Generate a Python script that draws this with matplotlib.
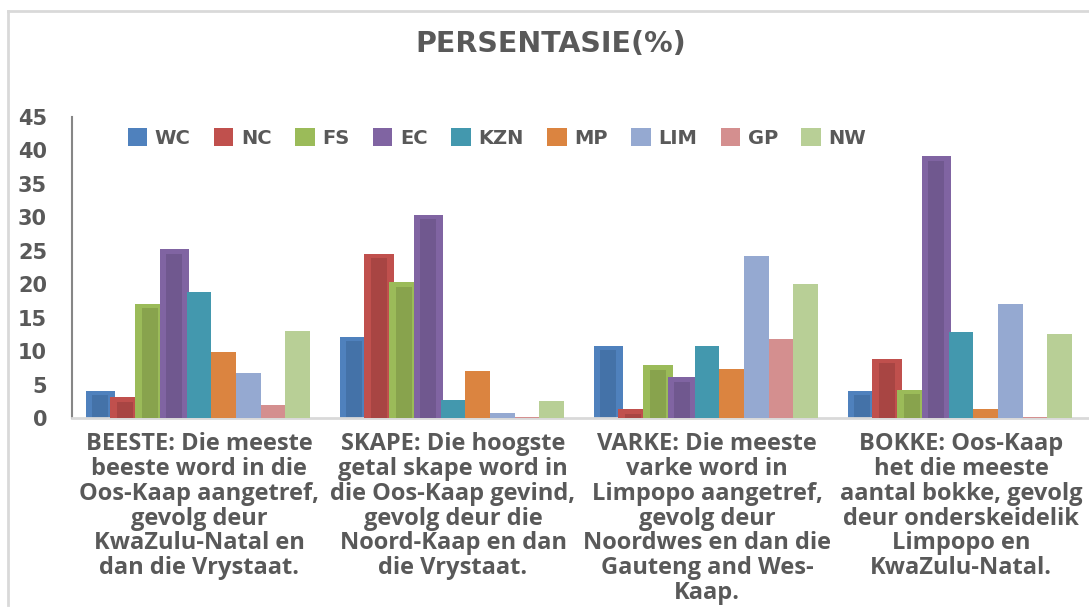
import matplotlib
matplotlib.use("Agg")
import matplotlib.pyplot as plt
import numpy as np
from matplotlib.lines import Line2D

# data
categories = [
    "BEESTE: Die meeste\nbeeste word in die\nOos-Kaap aangetref,\ngevolg deur\nKwaZulu-Natal en\ndan die Vrystaat.",
    "SKAPE: Die hoogste\ngetal skape word in\ndie Oos-Kaap gevind,\ngevolg deur die\nNoord-Kaap en dan\ndie Vrystaat.",
    "VARKE: Die meeste\nvarke word in\nLimpopo aangetref,\ngevolg deur\nNoordwes en dan die\nGauteng and Wes-\nKaap.",
    "BOKKE: Oos-Kaap\nhet die meeste\naantal bokke, gevolg\ndeur onderskeidelik\nLimpopo en\nKwaZulu-Natal.",
]
provinces = ["WC", "NC", "FS", "EC", "KZN", "MP", "LIM", "GP", "NW"]
WC = [4.1, 12.1, 10.8, 4.1]
NC = [3.1, 24.5, 1.3, 8.8]
FS = [17.1, 20.3, 7.9, 4.2]
EC = [25.2, 30.4, 6.1, 39.1]
KZN = [18.9, 2.7, 10.8, 12.8]
MP = [9.8, 7.0, 7.4, 1.3]
LIM = [6.8, 0.7, 24.2, 17.1]
GP = [1.9, 0.1, 11.8, 0.1]
NW = [13.0, 2.5, 20.1, 12.5]
series = [WC, NC, FS, EC, KZN, MP, LIM, GP, NW]

# kleure: buitekant / binnekant
outer = ['#4F81BD', '#C0504D', '#9BBB59', '#8064A2', '#4398AE', '#DB8440', '#95A9D1', '#D48F8F', '#B8CF96']
inner = ['#4472A8', '#A84543', '#88A34D', '#70588F', None, None, None, None, None]

grey = '#595959'
fig = plt.figure(figsize=(10.89, 6.07), dpi=100)
ax = fig.add_axes([72/1089, 1-418/607, 1016/1089, 301/607])

x = np.arange(len(categories))
w = 0.097
for i, vals in enumerate(series):
    pos = x + (i - 4) * w
    if inner[i] is not None:
        ax.bar(pos, vals, width=w*1.2, color=outer[i], zorder=2+i)
        inn = [max(v - 0.65, 0) for v in vals]
        ax.bar(pos, inn, width=w*0.65, color=inner[i], zorder=2+i)
        ax.bar([0], [0], color=outer[i], label=provinces[i])
    else:
        ax.bar(pos, vals, width=w, color=outer[i], zorder=2+i, label=provinces[i])

ax.set_xlim(-0.5, 3.5)
ax.set_ylim(0, 45)
ax.set_yticks(np.arange(0, 46, 5))
ax.set_xticks(x)
ax.set_xticklabels(categories, fontsize=17, fontweight='bold', color=grey,
                   family='Open Sans', linespacing=1.05)
ax.tick_params(axis='x', length=0, pad=10)
ax.tick_params(axis='y', length=0, pad=18, labelsize=15, labelcolor=grey)
for t in ax.get_yticklabels():
    t.set_fontweight('bold')

for s in ['top', 'right']:
    ax.spines[s].set_visible(False)
ax.spines['left'].set_color('#868686')
ax.spines['left'].set_linewidth(1.5)
ax.spines['bottom'].set_color('#D9D9D9')
ax.spines['bottom'].set_linewidth(2)

fig.text(551/1089, 1-44/607, 'PERSENTASIE(%)', ha='center', va='center',
         fontsize=20.5, fontweight='bold', color=grey)

leg = ax.legend(loc='center', bbox_to_anchor=(497/1089, 1-138/607), bbox_transform=fig.transFigure,
                ncol=9, frameon=False, handlelength=1.0, handleheight=1.0, handletextpad=0.4,
                columnspacing=1.2, prop={'weight': 'bold', 'size': 14})
for t in leg.get_texts():
    t.set_color(grey)

# raam
fig.add_artist(Line2D([8/1089, 1], [1-11/607, 1-11/607], color='#D9D9D9', lw=2))
fig.add_artist(Line2D([8/1089, 8/1089], [1-11/607, 1-605/607], color='#D9D9D9', lw=2))

plt.savefig('out.png', dpi=100)
